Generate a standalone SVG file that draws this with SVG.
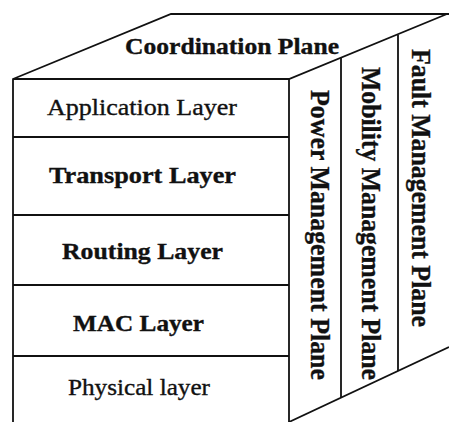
<svg xmlns="http://www.w3.org/2000/svg" width="449" height="422" viewBox="0 0 449 422">
<style>
.ln{fill:none;stroke:#111;stroke-width:1.8;stroke-linejoin:miter}
.t{font-family:"Liberation Serif","Times New Roman",serif;font-size:23px;fill:#111;stroke:#111;stroke-width:0.35}
.b{font-weight:bold}
.v{font-family:"Liberation Serif","Times New Roman",serif;font-size:27px;font-weight:bold;fill:#111;stroke:#111;stroke-width:0.35}
</style>
<rect width="449" height="422" fill="#fff"/>
<g id="connectors">
  <path class="ln" d="M13,424 V79 L171,14 H449"/>
  <path class="ln" d="M13,79 H289 L447,14"/>
  <path class="ln" d="M289,79 V424"/>
  <path class="ln" d="M289,422 L449,347"/>
  <path class="ln" d="M13,137 H289 M13,215 H289 M13,285 H289 M13,356 H289"/>
  <path class="ln" d="M341,58 V398 M398,35 V371"/>
</g>
<g id="coordination-plane">
  <text class="t b" x="125" y="54" textLength="214" lengthAdjust="spacingAndGlyphs">Coordination Plane</text>
</g>
<g id="application-layer">
  <text class="t" x="47" y="115" textLength="190" lengthAdjust="spacingAndGlyphs">Application Layer</text>
</g>
<g id="transport-layer">
  <text class="t b" x="49" y="183" textLength="187" lengthAdjust="spacingAndGlyphs">Transport Layer</text>
</g>
<g id="routing-layer">
  <text class="t b" x="62" y="259" textLength="161" lengthAdjust="spacingAndGlyphs">Routing Layer</text>
</g>
<g id="mac-layer">
  <text class="t b" x="73" y="331" textLength="131" lengthAdjust="spacingAndGlyphs">MAC Layer</text>
</g>
<g id="physical-layer">
  <text class="t" x="68" y="395" textLength="142" lengthAdjust="spacingAndGlyphs">Physical layer</text>
</g>
<g id="power-management-plane">
  <text class="v" transform="translate(311,90) rotate(90)" textLength="290" lengthAdjust="spacingAndGlyphs">Power Management Plane</text>
</g>
<g id="mobility-management-plane">
  <text class="v" transform="translate(362,67) rotate(90)" textLength="313" lengthAdjust="spacingAndGlyphs">Mobility Management Plane</text>
</g>
<g id="fault-management-plane">
  <text class="v" transform="translate(412,49) rotate(90)" textLength="278" lengthAdjust="spacingAndGlyphs">Fault Management Plane</text>
</g>
</svg>
